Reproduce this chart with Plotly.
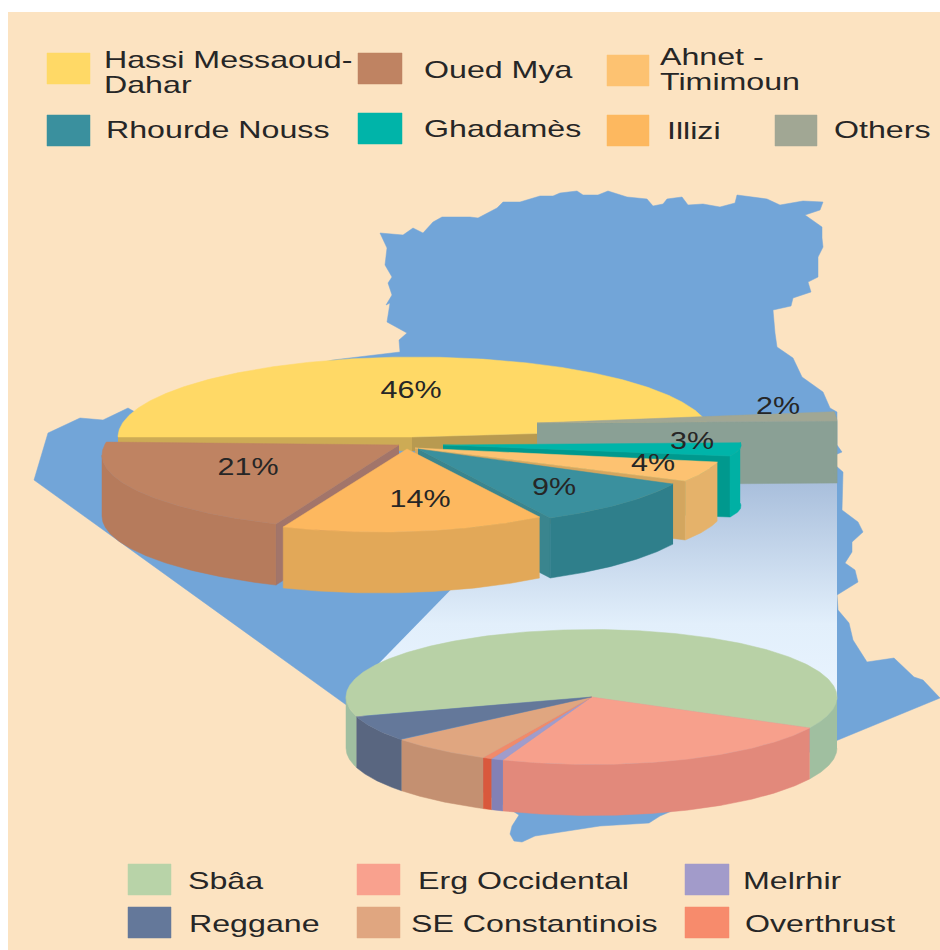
import math
import plotly.graph_objects as go

# ---------- data ----------
MAIN_NAMES = ["Hassi Messaoud-Dahar", "Others", "Ghadamès", "Ahnet - Timimoun", "Rhourde Nouss", "Illizi", "Oued Mya"]
MAIN_VALUES = [46, 2, 3, 4, 9, 14, 21]
SUB_NAMES = ["Sbâa", "Erg Occidental", "Melrhir", "Overthrust", "SE Constantinois", "Reggane"]
SUB_VALUES = [62.3, 23.3, 0.8, 0.6, 6.8, 6.2]

LEGEND_TOP = ["Hassi Messaoud-\nDahar", "Oued Mya", "Ahnet -\nTimimoun", "Rhourde Nouss", "Ghadamès", "Illizi", "Others"]
LEGEND_BOTTOM = ["Sbâa", "Erg Occidental", "Melrhir", "Reggane", "SE Constantinois", "Overthrust"]

# ---------- map outline (pixel space of the picture) ----------
MAP_X = [380,403,413,423,433,442,470,478,497,503,520,540,553,560,577,583,598,608,627,647,653,663,667,682,688,703,720,735,737,767,780,803,823,820,805,822,822,823,818,818,808,811,793,791,773,775,777,793,802,823,830,837,837,842,835,835,843,842,858,863,852,852,845,855,858,837,838,849,853,867,894,914,923,940,838,674,660,649,600,535,522,514,510,512,519,345,34,48,80,103,128,135,303,333,400,399,407,387,390,386,392,388,392,385,387]
MAP_Y = [233,235,228,233,222,217,217,218,208,202,202,196,196,193,191,195,195,191,197,199,206,204,199,197,205,204,207,203,195,199,205,201,202,210,215,227,238,247,257,277,282,292,298,306,310,333,347,358,377,392,408,412,445,452,455,465,472,510,522,532,542,552,563,570,582,595,610,623,640,662,658,677,680,698,740,810,816,823,826,836,842,841,834,826,815,704,480,433,418,420,408,412,367,360,352,340,333,322,303,305,295,283,277,265,248]

# ---------- styling / layout ----------
FONT = "Liberation Sans"
BG = "#fce3c1"
MAP = "#72a5d8"
INK = "#262626"

# name: apex, ellipse centre, rx, ry, angle corrections, depth, visible cut face, colours (top, rim, cut), label position
MAIN_GEO = {
    "Hassi Messaoud-Dahar": dict(apex=(412,437), c=(415,437), rx=297, ry=80, a0=0, a1=-8.4, depth=0, cut=None, col=("#ffd966","#cdab55","#cdab55"), lab=(411,392)),
    "Others": dict(apex=(537,423), c=(537,423), rx=300, ry=80, a0=-5.8, a1=-5.8, depth=62, cut="t1", col=("#a1a794","#8aa095","#8aa095"), lab=(778,408)),
    "Ghadamès": dict(apex=(443,445), c=(443,445), rx=298, ry=41, a0=-3, a1=-12, depth=61, cut="t1", col=("#00b4a9","#00b0a4","#00998e"), lab=(692,443)),
    "Ahnet - Timimoun": dict(apex=(415,448), c=(415,448), rx=309, ry=68, a0=-8.3, a1=-11, depth=59, cut="t1", col=("#fdc271","#e5b26a","#d3a65f"), lab=(653,465)),
    "Rhourde Nouss": dict(apex=(418,449), c=(418,450), rx=284.5, ry=76.8, a0=-8.3, a1=-11.9, depth=60, cut="t1", col=("#3a909e","#2f7f8b","#3a858e"), lab=(554,489)),
    "Illizi": dict(apex=(407,449), c=(379,449), rx=280, ry=83, a0=-4.6, a1=-9.2, depth=61, cut=None, col=("#fdb85f","#e2a858","#e2a858"), lab=(420,501)),
    "Oued Mya": dict(apex=(399,445), c=(400,455), rx=298, ry=76, a0=-13.8, a1=-13.4, depth=61, cut="t0", col=("#bf8362","#b67b5c","#a2756a"), lab=(248,469)),
}
SUB_COLORS = {
    "Sbâa": ("#b8d1a6","#a0bfa0"), "Erg Occidental": ("#f7a08c","#e2897b"), "Melrhir": ("#a09ccb","#8381b5"),
    "Overthrust": ("#f18a6a","#d9583c"), "SE Constantinois": ("#e0a680","#c49071"), "Reggane": ("#64789a","#596680"),
}
SUB_C = (591.5, 697); SUB_RX = 245.5; SUB_RY = 67.5; SUB_DEPTH = 51; SUB_START = 197

LEG_TOP_SW = [(47,90,53,84,"#ffd966"),(358,402,53,84,"#bf8362"),(607,649,55,86,"#fdc271"),(47,90,115,146,"#3a909e"),(358,402,113,144,"#00b4a9"),(607,649,115,146,"#fdb85f"),(775,817,115,146,"#a1a794")]
LEG_TOP_TXT = [(104,62),(424,72),(660,59),(106,132),(424,131),(667,133),(834,132)]
LEG_BOT_SW = [(128,171,864,895,"#b8d3a8"),(357,400,864,895,"#f9a18e"),(685,729,864,895,"#a29bca"),(128,171,907,938,"#64789a"),(357,400,907,938,"#e0a680"),(685,729,907,938,"#f78b6c")]
LEG_BOT_TXT = [(188,883),(418,883),(743,883),(189,926),(411,926),(745,926)]

fig = go.Figure()

def poly(xs, ys, color, name=None, **kw):
    fig.add_trace(go.Scatter(x=list(xs), y=list(ys), mode="lines", fill="toself", fillcolor=color,
                             line=dict(width=0.5, color=color), hoverinfo="skip" if name is None else "name",
                             name=name or "", showlegend=False, **kw))

def arc(c, rx, ry, t0, t1):
    n = max(2, int(abs(t0 - t1) / 0.5) + 1)
    ts = [t0 + (t1 - t0) * i / n for i in range(n + 1)]
    return ts, [c[0] + rx * math.cos(math.radians(t)) for t in ts], [c[1] - ry * math.sin(math.radians(t)) for t in ts]

def draw_slice(name, apex, c, rx, ry, t0, t1, depth, cut, cols, front_only=True):
    ts, xs, ys = arc(c, rx, ry, t0, t1)
    if depth and cut:
        i = -1 if cut == "t1" else 0
        poly([apex[0], xs[i], xs[i], apex[0]], [apex[1], ys[i], ys[i] + depth, apex[1] + depth], cols[2])
    if depth:
        run = []
        runs = [run]
        for t, x, y in zip(ts, xs, ys):
            if not front_only or math.sin(math.radians(t)) <= 0.001:
                run.append((x, y))
            elif run:
                run = []
                runs.append(run)
        for r in runs:
            if len(r) > 1:
                poly([p[0] for p in r] + [p[0] for p in r[::-1]],
                     [p[1] for p in r] + [p[1] + depth for p in r[::-1]], cols[1])
    poly([apex[0]] + xs + [apex[0]], [apex[1]] + ys + [apex[1]], cols[0], name=name)

# backdrop
fig.add_shape(type="rect", x0=8, x1=940, y0=12, y1=950, fillcolor=BG, line_width=0, layer="below")
poly(MAP_X + MAP_X[:1], MAP_Y + MAP_Y[:1], MAP)

# connecting band between the two pies
fig.add_trace(go.Scatter(x=[555,837,837,350,555], y=[483,483,700,693,483], mode="lines", fill="toself",
                         line=dict(width=0), hoverinfo="skip", showlegend=False,
                         fillgradient=dict(type="vertical", colorscale=[[0,"#e9f4ff"],[0.35,"#e2effb"],[1,"#a9bfdc"]])))

# main pie, back to front
drawing_order = ["Hassi Messaoud-Dahar", "Others", "Ghadamès", "Ahnet - Timimoun", "Rhourde Nouss", "Oued Mya", "Illizi"]
angles = {}
cum = 0.0
for nm, v in zip(MAIN_NAMES, MAIN_VALUES):
    angles[nm] = (180 - cum * 3.6, 180 - (cum + v) * 3.6)
    cum += v

for nm in drawing_order:
    g = MAIN_GEO[nm]
    t0 = angles[nm][0] + g["a0"]
    t1 = angles[nm][1] + g["a1"]
    if nm == MAIN_NAMES[0]:
        ax, ay = g["apex"]
        _, xs, ys = arc(g["c"], g["rx"], g["ry"], t0, t1)
        poly([xs[0], ax, ax, xs[0]], [ys[0], ay, ay + 14, ys[0] + 6], "#cdab55")
        poly([ax, xs[-1], xs[-1], ax], [ay, ys[-1], ys[-1] + 12, ay + 14], "#b89a50")
    draw_slice(nm, g["apex"], g["c"], g["rx"], g["ry"], t0, t1, g["depth"], g["cut"], g["col"],
               front_only=nm in ("Oued Mya", "Illizi", "Rhourde Nouss", "Ahnet - Timimoun") )

# sub pie
cum = 0.0
for nm, v in zip(SUB_NAMES, SUB_VALUES):
    t0 = SUB_START - cum * 3.6
    t1 = SUB_START - (cum + v) * 3.6
    cols = SUB_COLORS[nm]
    draw_slice(nm, SUB_C, SUB_C, SUB_RX, SUB_RY, t0, t1, SUB_DEPTH, None, (cols[0], cols[1], cols[1]))
    cum += v

# percent labels
fig.add_trace(go.Scatter(x=[MAIN_GEO[n]["lab"][0] for n in MAIN_NAMES], y=[MAIN_GEO[n]["lab"][1] for n in MAIN_NAMES],
                         mode="text", text=[f"{v}%" for v in MAIN_VALUES], textposition="middle center",
                         textfont=dict(family=FONT, size=24, color=INK), hoverinfo="skip", showlegend=False))

# legends
def legend(labels, swatches, positions, size):
    for lab, sw, pos in zip(labels, swatches, positions):
        poly([sw[0], sw[1], sw[1], sw[0], sw[0]], [sw[2], sw[2], sw[3], sw[3], sw[2]], sw[4])
        lines = lab.split("\n")
        fig.add_trace(go.Scatter(x=[pos[0]] * len(lines), y=[pos[1] + 24.5 * i for i in range(len(lines))],
                                 mode="text", text=lines, textposition="middle right",
                                 textfont=dict(family=FONT, size=size, color=INK), hoverinfo="skip", showlegend=False))

legend(LEGEND_TOP, LEG_TOP_SW, LEG_TOP_TXT, 24)
legend(LEGEND_BOTTOM, LEG_BOT_SW, LEG_BOT_TXT, 24)

fig.update_layout(width=940, height=950, margin=dict(l=0, r=0, t=0, b=0), paper_bgcolor="white", plot_bgcolor="white",
                  showlegend=False,
                  xaxis=dict(range=[0, 940], visible=False, fixedrange=True),
                  yaxis=dict(range=[950, 0], visible=False, fixedrange=True))

# the reference lettering is stretched horizontally
POST = """document.body.style.margin='0';
document.querySelectorAll('.textpoint text').forEach(function(t){
  var k = /%$/.test(t.textContent) ? 1.27 : 1.34;
  t.setAttribute('textLength', t.getComputedTextLength() * k);
  t.setAttribute('lengthAdjust', 'spacingAndGlyphs');
});"""
fig.write_html("out.html", config=dict(displayModeBar=False), post_script=POST)
